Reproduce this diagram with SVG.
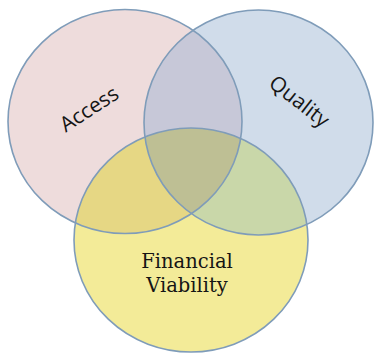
<svg xmlns="http://www.w3.org/2000/svg" width="375" height="354" viewBox="0 0 375 354">
<defs>
<clipPath id="clipA"><ellipse cx="125" cy="121.5" rx="117" ry="112"/></clipPath>
<clipPath id="clipB"><ellipse cx="258.5" cy="122.5" rx="114.5" ry="112.5"/></clipPath>
<clipPath id="clipBinA" clip-path="url(#clipA)"><ellipse cx="258.5" cy="122.5" rx="114.5" ry="112.5"/></clipPath>
</defs>
<style>
.s{fill:none;stroke:#7f9cb9;stroke-width:1.6}
.lbl{font-family:"Open Sans","Liberation Sans",sans-serif;font-size:21px;fill:#151515}
.lbl2{font-family:"DejaVu Serif","Liberation Serif",serif;font-size:19.5px;fill:#151515}
</style>
<rect width="375" height="354" fill="#fff"/>
<g id="access"><ellipse cx="125" cy="121.5" rx="117" ry="112" fill="#eedcdc"/></g>
<g id="quality"><ellipse cx="258.5" cy="122.5" rx="114.5" ry="112.5" fill="#d0dcea"/></g>
<g id="financial"><ellipse cx="191" cy="240" rx="117" ry="112" fill="#f3eb98"/></g>
<g id="overlaps">
<ellipse cx="258.5" cy="122.5" rx="114.5" ry="112.5" fill="#c7c8d8" clip-path="url(#clipA)"/>
<ellipse cx="191" cy="240" rx="117" ry="112" fill="#e6d784" clip-path="url(#clipA)"/>
<ellipse cx="191" cy="240" rx="117" ry="112" fill="#c9d7a9" clip-path="url(#clipB)"/>
<ellipse cx="191" cy="240" rx="117" ry="112" fill="#bebf94" clip-path="url(#clipBinA)"/>
</g>
<g id="outlines">
<ellipse class="s" cx="125" cy="121.5" rx="117" ry="112"/>
<ellipse class="s" cx="258.5" cy="122.5" rx="114.5" ry="112.5"/>
<ellipse class="s" cx="191" cy="240" rx="117" ry="112"/>
</g>
<g id="labels">
<text class="lbl" x="0" y="0" text-anchor="middle" transform="translate(93,115) rotate(-33)">Access</text>
<text class="lbl" x="0" y="0" text-anchor="middle" transform="translate(295,107) rotate(38)">Quality</text>
<text class="lbl2" x="187" y="268" text-anchor="middle">Financial</text>
<text class="lbl2" x="187" y="292" text-anchor="middle">Viability</text>
</g>
<g id="connectors"/>
</svg>
